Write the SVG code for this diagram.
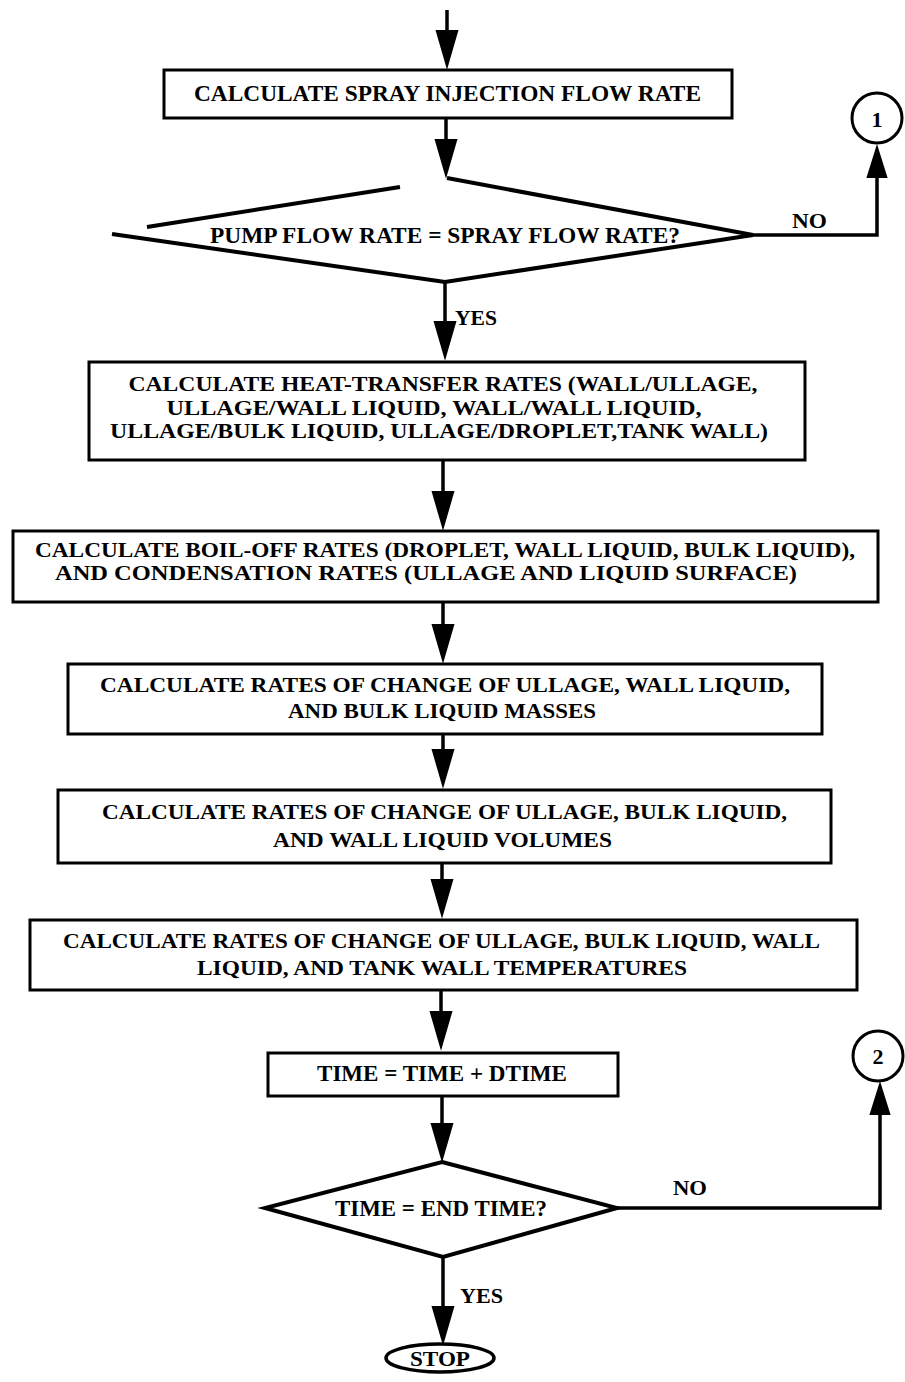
<svg xmlns="http://www.w3.org/2000/svg" width="905" height="1382" viewBox="0 0 905 1382">
<style>
.box{fill:#fff;stroke:#000;stroke-width:3}
.dia{fill:none;stroke:#000;stroke-width:4;stroke-linejoin:miter}
.con{fill:none;stroke:#000;stroke-width:3.5}
text{font-family:"Liberation Serif","Times New Roman",serif;font-weight:bold;fill:#000;text-anchor:middle}
.t20{font-size:21px}
.t21{font-size:22px}
.t23{font-size:24px}
</style>
<defs>
<marker id="ah" markerUnits="userSpaceOnUse" markerWidth="40" markerHeight="24" viewBox="0 0 38 22" refX="23" refY="11" orient="auto"><path d="M0,0 L38,11 L0,22 z" fill="#000"/></marker>
<marker id="ah2" markerUnits="userSpaceOnUse" markerWidth="34" markerHeight="22" viewBox="0 0 32 20" refX="17" refY="10" orient="auto"><path d="M0,0 L32,10 L0,20 z" fill="#000"/></marker>
</defs>

<g id="connectors">
<path class="con" d="M447,10 L447,54" marker-end="url(#ah)"/>
<path class="con" d="M446,118 L446,163" marker-end="url(#ah)"/>
<path class="con" d="M753,235 L877,235 L877,160" marker-end="url(#ah2)"/>
<path class="con" d="M445,282 L445,345" marker-end="url(#ah)"/>
<path class="con" d="M443,460 L443,515" marker-end="url(#ah)"/>
<path class="con" d="M443,602 L443,648" marker-end="url(#ah)"/>
<path class="con" d="M443,734 L443,773" marker-end="url(#ah)"/>
<path class="con" d="M442,863 L442,903" marker-end="url(#ah)"/>
<path class="con" d="M441,990 L441,1035" marker-end="url(#ah)"/>
<path class="con" d="M442,1096 L442,1147" marker-end="url(#ah)"/>
<path class="con" d="M617,1208 L880,1208 L880,1097" marker-end="url(#ah2)"/>
<path class="con" d="M443,1257 L443,1330" marker-end="url(#ah)"/>
<text class="t21" x="809.5" y="228" textLength="35" lengthAdjust="spacingAndGlyphs">NO</text>
<text class="t21" x="476" y="325" textLength="42" lengthAdjust="spacingAndGlyphs">YES</text>
<text class="t21" x="690" y="1195" textLength="34" lengthAdjust="spacingAndGlyphs">NO</text>
<text class="t21" x="481.5" y="1303" textLength="43" lengthAdjust="spacingAndGlyphs">YES</text>
</g>

<g id="n-spray">
<rect class="box" x="164" y="70" width="568" height="48"/>
<text class="t23" x="447.5" y="101" textLength="507" lengthAdjust="spacingAndGlyphs">CALCULATE SPRAY INJECTION FLOW RATE</text>
</g>

<g id="n-pump-decision">
<path class="dia" d="M447,178 L753,235 L445,282 L112,234"/>
<path class="dia" d="M147,227 L400,187"/>
<text class="t23" x="445" y="243" textLength="470" lengthAdjust="spacingAndGlyphs">PUMP FLOW RATE = SPRAY FLOW RATE?</text>
</g>

<g id="c1">
<circle cx="877" cy="118" r="25" fill="#fff" stroke="#000" stroke-width="3"/>
<text class="t21" x="877" y="127">1</text>
</g>

<g id="n-heat">
<rect class="box" x="89" y="362" width="716" height="98"/>
<text class="t20" x="443" y="391" textLength="629" lengthAdjust="spacingAndGlyphs">CALCULATE HEAT-TRANSFER RATES (WALL/ULLAGE,</text>
<text class="t20" x="434" y="415" textLength="535" lengthAdjust="spacingAndGlyphs">ULLAGE/WALL LIQUID, WALL/WALL LIQUID,</text>
<text class="t20" x="439" y="438" textLength="658" lengthAdjust="spacingAndGlyphs">ULLAGE/BULK LIQUID, ULLAGE/DROPLET,TANK WALL)</text>
</g>

<g id="n-boiloff">
<rect class="box" x="13" y="531" width="865" height="71"/>
<text class="t20" x="445" y="557" textLength="820" lengthAdjust="spacingAndGlyphs">CALCULATE BOIL-OFF RATES (DROPLET, WALL LIQUID, BULK LIQUID),</text>
<text class="t20" x="426" y="580" textLength="742" lengthAdjust="spacingAndGlyphs">AND CONDENSATION RATES (ULLAGE AND LIQUID SURFACE)</text>
</g>

<g id="n-masses">
<rect class="box" x="68" y="664" width="754" height="70"/>
<text class="t21" x="445" y="692" textLength="690" lengthAdjust="spacingAndGlyphs">CALCULATE RATES OF CHANGE OF ULLAGE, WALL LIQUID,</text>
<text class="t21" x="442" y="718" textLength="308" lengthAdjust="spacingAndGlyphs">AND BULK LIQUID MASSES</text>
</g>

<g id="n-volumes">
<rect class="box" x="58" y="790" width="773" height="73"/>
<text class="t21" x="444.5" y="819" textLength="685" lengthAdjust="spacingAndGlyphs">CALCULATE RATES OF CHANGE OF ULLAGE, BULK LIQUID,</text>
<text class="t21" x="442.5" y="847" textLength="339" lengthAdjust="spacingAndGlyphs">AND WALL LIQUID VOLUMES</text>
</g>

<g id="n-temps">
<rect class="box" x="30" y="920" width="827" height="70"/>
<text class="t21" x="441.5" y="948" textLength="757" lengthAdjust="spacingAndGlyphs">CALCULATE RATES OF CHANGE OF ULLAGE, BULK LIQUID, WALL</text>
<text class="t21" x="442" y="975" textLength="490" lengthAdjust="spacingAndGlyphs">LIQUID, AND TANK WALL TEMPERATURES</text>
</g>

<g id="n-time">
<rect class="box" x="268" y="1053" width="350" height="43"/>
<text class="t23" x="442" y="1081" textLength="250" lengthAdjust="spacingAndGlyphs">TIME = TIME + DTIME</text>
</g>

<g id="n-end-decision">
<polygon class="dia" points="442,1162 617,1208 443,1257 265,1208"/>
<text class="t23" x="441" y="1216" textLength="212" lengthAdjust="spacingAndGlyphs">TIME = END TIME?</text>
</g>

<g id="c2">
<circle cx="878" cy="1056" r="25" fill="#fff" stroke="#000" stroke-width="3"/>
<text class="t21" x="878" y="1064">2</text>
</g>

<g id="n-stop">
<ellipse cx="440" cy="1358" rx="54" ry="14" fill="#fff" stroke="#000" stroke-width="3.5"/>
<text class="t21" x="440" y="1366" textLength="60" lengthAdjust="spacingAndGlyphs">STOP</text>
</g>
</svg>
